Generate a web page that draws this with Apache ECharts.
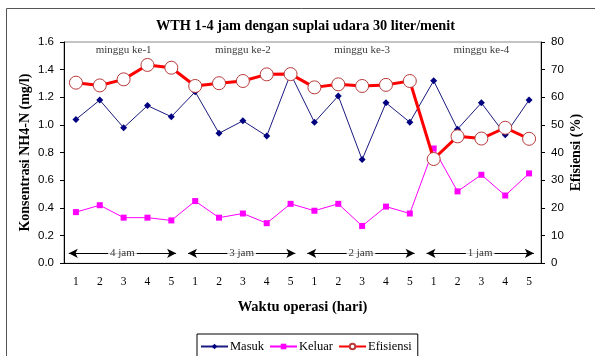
<!DOCTYPE html>
<html>
<head>
<meta charset="utf-8">
<script src="https://cdn.jsdelivr.net/npm/echarts@6/dist/echarts.min.js"></script>
<style>
  html, body { margin: 0; padding: 0; background: #fff; }
  #chart { width: 595px; height: 356px; }
</style>
</head>
<body>
<div id="chart"></div>
<script>
// Operating days within each week, and the four weeks of the run
const days = ['1', '2', '3', '4', '5'];
const weekNames = ['minggu ke-1', 'minggu ke-2', 'minggu ke-3', 'minggu ke-4'];
const retention = ['4 jam', '3 jam', '2 jam', '1 jam'];

// NH4-N concentration (mg/l), inlet and outlet
const masuk = [1.04, 1.18, 0.98, 1.14, 1.06, 1.24, 0.94, 1.03, 0.92, 1.37,
               1.02, 1.21, 0.75, 1.16, 1.02, 1.32, 0.97, 1.16, 0.93, 1.18];
const keluar = [0.37, 0.42, 0.33, 0.33, 0.31, 0.45, 0.33, 0.36, 0.29, 0.43,
                0.38, 0.43, 0.27, 0.41, 0.36, 0.83, 0.52, 0.64, 0.49, 0.65];
// Removal efficiency (%)
const efisiensi = [65.3, 64.3, 66.5, 71.7, 70.7, 64.1, 65.1, 65.9, 68.3, 68.4,
                   63.6, 64.7, 64.1, 64.5, 65.9, 37.7, 45.9, 45.1, 49.0, 45.0];

// Left and right axis scales
const leftTicks = { min: 0, max: 1.6, step: 0.2 };
const rightTicks = { min: 0, max: 80, step: 10 };

const categories = [];
weekNames.forEach(() => days.forEach(d => categories.push(d)));
const perWeek = days.length;

const serif = 'Liberation Serif';
const sans = 'Liberation Sans';

// Week separators, retention-time arrows and their labels on a continuous x scale
const separators = [];
for (let w = 1; w < weekNames.length; w++) {
  separators.push([{ coord: [w * perWeek, -0.025] }, { coord: [w * perWeek, leftTicks.max] }]);
}
const arrowY = 0.072;
const arrows = retention.map((_, w) => [
  { coord: [w * perWeek + 0.2, arrowY] },
  { coord: [w * perWeek + 4.7, arrowY] }
]);
const jamLabels = retention.map((t, w) => [w * perWeek + 2.45, arrowY, t]);
const weekLabels = weekNames.map((t, w) => [w * perWeek + 2.5, 1.54, t]);

const chart = echarts.init(document.getElementById('chart'), null, { renderer: 'canvas' });

const nameStyle = { fontFamily: serif, fontSize: 14, fontWeight: 'bold', color: '#000' };

chart.setOption({
  animation: false,
  backgroundColor: '#fff',
  title: {
    text: 'WTH 1-4 jam dengan suplai udara 30 liter/menit',
    left: 151, top: 14,
    textStyle: { fontFamily: serif, fontSize: 14.3, fontWeight: 'bold', color: '#000' }
  },
  graphic: [{
    type: 'rect', silent: true, z: -10,
    shape: { x: 6.5, y: 8.5, width: 700, height: 400 },
    style: { fill: 'none', stroke: '#555', lineWidth: 1 }
  }],
  legend: {
    data: ['Masuk', 'Keluar', 'Efisiensi'],
    left: 197, top: 334,
    padding: [6, 6, 8, 3],
    itemGap: 5,
    itemWidth: 27, itemHeight: 7,
    borderColor: '#000', borderWidth: 1,
    textStyle: { fontFamily: serif, fontSize: 12.5, color: '#000', padding: [0, 0, 0, -3] }
  },
  grid: {
    left: 64, right: 54, top: 42, bottom: 92.7,
    show: true, borderColor: '#888', borderWidth: 1, backgroundColor: 'transparent'
  },
  xAxis: [{
    type: 'category',
    data: categories,
    boundaryGap: true,
    name: 'Waktu operasi (hari)',
    nameLocation: 'middle',
    nameGap: 36,
    nameTextStyle: Object.assign({}, nameStyle, { fontSize: 14.5 }),
    axisLine: { lineStyle: { color: '#000', width: 1 } },
    axisTick: { show: false },
    axisLabel: { interval: 0, margin: 13, fontFamily: serif, fontSize: 11.5, color: '#000' },
    splitLine: { show: false }
  }, {
    type: 'value', min: 0, max: categories.length, show: false
  }],
  yAxis: [{
    type: 'value',
    min: leftTicks.min, max: leftTicks.max, interval: leftTicks.step,
    name: 'Konsentrasi NH4-N (mg/l)',
    nameLocation: 'middle', nameRotate: 90, nameGap: 32,
    nameMoveOverlap: false,
    nameTextStyle: nameStyle,
    axisLine: { show: true, lineStyle: { color: '#000', width: 1 } },
    axisTick: { show: true, length: 4, lineStyle: { color: '#000' } },
    axisLabel: { margin: 10, fontFamily: sans, fontSize: 11.5, color: '#000',
                 formatter: v => v.toFixed(1) },
    splitLine: { show: false }
  }, {
    type: 'value',
    min: rightTicks.min, max: rightTicks.max, interval: rightTicks.step,
    position: 'right',
    name: 'Efisiensi (%)',
    nameLocation: 'middle', nameRotate: 90, nameGap: 28,
    nameMoveOverlap: false,
    nameTextStyle: Object.assign({}, nameStyle, { verticalAlign: 'top' }),
    axisLine: { show: true, lineStyle: { color: '#000', width: 1 } },
    axisTick: { show: true, length: 4, lineStyle: { color: '#000' } },
    axisLabel: { margin: 10, fontFamily: sans, fontSize: 11.5, color: '#000' },
    splitLine: { show: false }
  }],
  series: [
    {
      // week separators
      type: 'scatter', xAxisIndex: 1, yAxisIndex: 0, z: 1,
      data: [], silent: true,
      markLine: {
        silent: true, animation: false,
        symbol: ['none', 'none'],
        label: { show: false },
        lineStyle: { color: '#000', width: 1, type: 'solid' },
        emphasis: { disabled: true },
        data: separators
      }
    },
    {
      // retention-time arrows
      type: 'scatter', xAxisIndex: 1, yAxisIndex: 0, z: 1,
      data: [], silent: true,
      markLine: {
        silent: true, animation: false,
        symbol: ['arrow', 'arrow'], symbolSize: [7, 9],
        label: { show: false },
        lineStyle: { color: '#000', width: 1, type: 'solid' },
        emphasis: { disabled: true },
        data: arrows
      }
    },
    {
      name: 'Masuk', type: 'line', xAxisIndex: 0, yAxisIndex: 0, z: 3,
      data: masuk,
      symbol: 'diamond', symbolSize: 7,
      lineStyle: { color: '#1a1a80', width: 1 },
      itemStyle: { color: '#000080' }
    },
    {
      name: 'Keluar', type: 'line', xAxisIndex: 0, yAxisIndex: 0, z: 3,
      data: keluar,
      symbol: 'rect', symbolSize: 6,
      lineStyle: { color: '#FF00FF', width: 1 },
      itemStyle: { color: '#FF00FF' }
    },
    {
      name: 'Efisiensi', type: 'line', xAxisIndex: 0, yAxisIndex: 1, z: 4,
      data: efisiensi,
      symbol: 'circle', symbolSize: 13,
      lineStyle: { color: '#FF0000', width: 3 },
      itemStyle: { color: '#fff', borderColor: '#B83A3A', borderWidth: 1 }
    },
    {
      // retention-time labels sitting on the arrows
      type: 'scatter', xAxisIndex: 1, yAxisIndex: 0, z: 6, silent: true,
      data: jamLabels, symbolSize: 1, itemStyle: { color: 'transparent' },
      label: {
        show: true, position: 'inside', formatter: p => p.value[2],
        fontFamily: serif, fontSize: 11, color: '#000',
        backgroundColor: '#fff', padding: [0, 2]
      }
    },
    {
      // week headings along the top of the plot
      type: 'scatter', xAxisIndex: 1, yAxisIndex: 0, z: 6, silent: true,
      data: weekLabels, symbolSize: 1, itemStyle: { color: 'transparent' },
      label: {
        show: true, position: 'inside', formatter: p => p.value[2],
        fontFamily: serif, fontSize: 11, color: '#000'
      }
    }
  ]
});
</script>
</body>
</html>
